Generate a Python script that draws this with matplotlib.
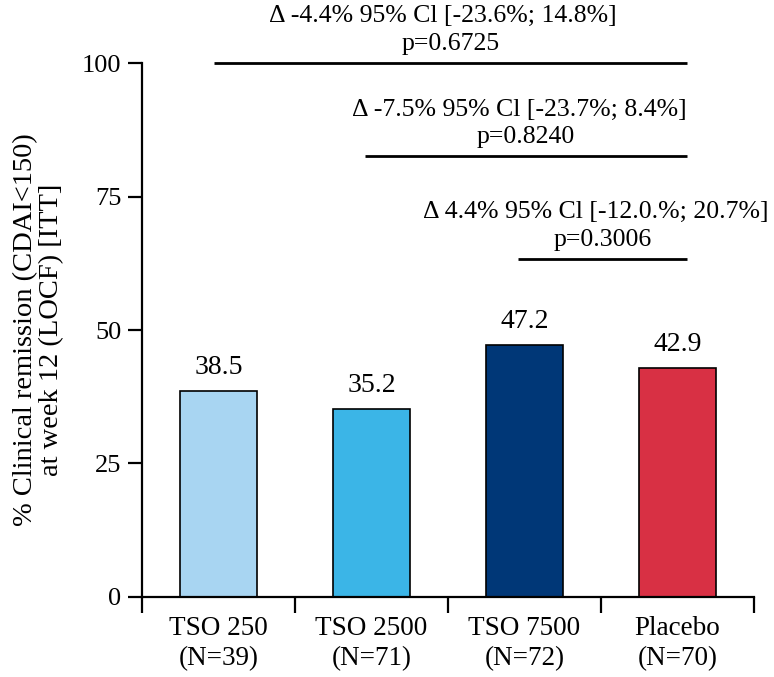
import matplotlib
matplotlib.use('Agg')
import matplotlib.pyplot as plt

# data
groups = ['TSO 250\n(N=39)', 'TSO 2500\n(N=71)', 'TSO 7500\n(N=72)', 'Placebo\n(N=70)']
remission = [38.5, 35.2, 47.2, 42.9]
bar_colors = ['#A8D5F2', '#3BB5E7', '#003777', '#D83044']
yticks = [0, 25, 50, 75, 100]

# comparisons: start group, bracket height, delta text, p text
cmp_start = [0, 1, 2]
cmp_y = [100, 82.5, 63.3]
cmp_delta = ['Δ -4.4% 95% Cl [-23.6%; 14.8%]',
             'Δ -7.5% 95% Cl [-23.7%; 8.4%]',
             'Δ 4.4% 95% Cl [-12.0.%; 20.7%]']
cmp_p = ['p=0.6725', 'p=0.8240', 'p=0.3006']

plt.rcParams['font.family'] = ['Liberation Serif', 'DejaVu Serif']

fig = plt.figure(figsize=(7.74, 6.77), dpi=100)
ax = fig.add_axes([0.1835, 0.1182, 0.974 - 0.1835, 0.9069 - 0.1182])

x = list(range(len(groups)))
ax.bar(x, remission, width=0.5, color=bar_colors, edgecolor='black', linewidth=1.2)

for xi, v in zip(x, remission):
    ax.annotate(f'{v:.1f}', (xi, v), xytext=(0, 12.5), textcoords='offset points',
                ha='center', va='baseline', fontsize=20)

line_end = 3.06
for s, yv, dt, pt in zip(cmp_start, cmp_y, cmp_delta, cmp_p):
    x0 = s - 0.03 if s == 0 else s - 0.04
    ax.plot([x0, line_end], [yv, yv], color='black', linewidth=2, clip_on=False,
            solid_capstyle='butt')
    mid = (x0 + line_end) / 2
    ax.annotate(pt, (mid, yv), xytext=(0, 9.5), textcoords='offset points',
                ha='center', va='baseline', fontsize=18.5, annotation_clip=False)
    ax.annotate(dt, (mid, yv), xytext=(-5, 29.5), textcoords='offset points',
                ha='center', va='baseline', fontsize=18.5, annotation_clip=False)

ax.set_xlim(-0.5, 3.5)
ax.set_ylim(0, 100)
ax.set_yticks(yticks)
ax.set_yticklabels([str(t) for t in yticks], fontsize=19)
ax.set_xticks(x)
ax.set_xticklabels(groups, fontsize=19.5, linespacing=1.3)
ax.set_xticks([-0.5, 0.5, 1.5, 2.5, 3.5], minor=True)
ax.tick_params(axis='x', which='major', length=0, pad=13.5)
ax.tick_params(axis='x', which='minor', length=11.5, width=1.6, direction='out')
ax.tick_params(axis='y', length=10, width=1.6, pad=5)

for side in ['top', 'right']:
    ax.spines[side].set_visible(False)
for side in ['left', 'bottom']:
    ax.spines[side].set_linewidth(1.6)

ax.set_ylabel('% Clinical remission (CDAI<150)\nat week 12 (LOCF) [ITT]',
              fontsize=20.5, linespacing=1.05)
ax.yaxis.set_label_coords(-0.128, 0.5)

fig.savefig('out.png', dpi=100)
